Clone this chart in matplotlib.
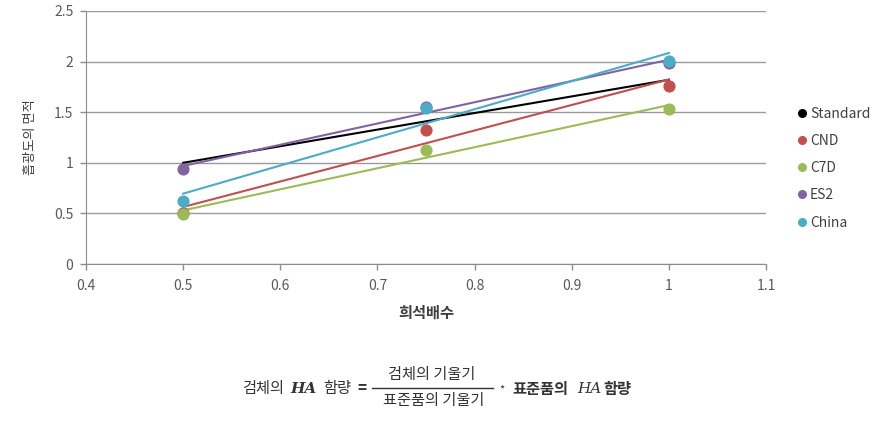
import matplotlib
matplotlib.use("Agg")
import matplotlib.pyplot as plt
from matplotlib.lines import Line2D
import numpy as np

plt.rcParams['font.family'] = ['Noto Sans CJK KR', 'DejaVu Sans']

# dilution factor on x, absorbance area on y
dilution = [0.5, 0.75, 1.0]
series_names = ['Standard', 'CND', 'C7D', 'ES2', 'China']
standard = [1.00, 1.41, 1.82]
cnd = [0.50, 1.32, 1.76]
c7d = [0.49, 1.13, 1.53]
es2 = [0.94, 1.55, 1.99]
china = [0.62, 1.54, 2.01]
colors = ['#000000', '#C0504D', '#9BBB59', '#8064A2', '#4BACC6']

x_ticks = [0.4, 0.5, 0.6, 0.7, 0.8, 0.9, 1.0, 1.1]
x_tick_labels = ['0.4', '0.5', '0.6', '0.7', '0.8', '0.9', '1', '1.1']
y_ticks = [0, 0.5, 1.0, 1.5, 2.0, 2.5]
y_tick_labels = ['0', '0.5', '1', '1.5', '2', '2.5']

W, H = 884, 426
fig = plt.figure(figsize=(W / 100, H / 100), dpi=100)
ax = fig.add_axes([86 / W, 1 - 264 / H, 680 / W, 253 / H])

all_series = [standard, cnd, c7d, es2, china]
handles = []
for i, (name, vals, col) in enumerate(zip(series_names, all_series, colors)):
    # standard points are not visible in the original, only its trend line
    if i > 0:
        ax.scatter(dilution, vals, s=60, color=col, zorder=3)
    k, b = np.polyfit(dilution, vals, 1)
    xs = np.array([dilution[0], dilution[-1]])
    ax.plot(xs, k * xs + b, color=col, linewidth=1.5, zorder=2)
    handles.append(Line2D([], [], marker='o', linestyle='none', markersize=5.5,
                          color=col, label=name))

ax.set_xlim(0.4, 1.1)
ax.set_ylim(0, 2.5)
ax.set_xticks(x_ticks)
ax.set_xticklabels(x_tick_labels)
ax.set_yticks(y_ticks)
ax.set_yticklabels(y_tick_labels)
ax.tick_params(colors='#8c8c8c', labelcolor='#595959', labelsize=10,
               length=4, width=1, direction='out')
ax.tick_params(axis='x', pad=7)
ax.tick_params(axis='y', pad=5)
ax.yaxis.grid(True, color='#9a9a9a', linewidth=1)
ax.set_axisbelow(True)
for side in ['top', 'right']:
    ax.spines[side].set_visible(False)
for side in ['left', 'bottom']:
    ax.spines[side].set_color('#8c8c8c')

ax.set_xlabel('희석배수', fontsize=11, fontweight='bold', color='#404040', labelpad=8)
ax.set_ylabel('흡광도의 면적', fontsize=9.5, color='#404040', labelpad=12)

leg = ax.legend(handles=handles, loc='center left', bbox_to_anchor=(1.035, 0.379),
                frameon=False, fontsize=10, handletextpad=0.05,
                labelspacing=0.95, handlelength=1.0, borderaxespad=0)
for t in leg.get_texts():
    t.set_color('#404040')

# formula below the chart
def px(x, y):
    return x / W, 1 - y / H

fs = 11
ink = '#333333'
serif = ['DejaVu Serif']
fig.text(*px(263, 389), '검체의', fontsize=fs, ha='center', va='center', color=ink)
fig.text(*px(303, 389), 'HA', fontsize=fs, ha='center', va='center', color=ink,
         family=serif, style='italic', fontweight='bold')
fig.text(*px(337, 389), '함량', fontsize=fs, ha='center', va='center', color=ink)
fig.text(*px(362, 388), '=', fontsize=fs, ha='center', va='center', color=ink,
         fontweight='bold')
fig.text(*px(432, 375), '검체의 기울기', fontsize=fs, ha='center', va='center', color=ink)
fig.text(*px(434, 400), '표준품의 기울기', fontsize=fs, ha='center', va='center', color=ink)
fig.add_artist(Line2D([372 / W, 493 / W], [1 - 388 / H, 1 - 388 / H],
                      color=ink, linewidth=1))
fig.text(*px(502, 390), '*', fontsize=fs - 3, ha='center', va='center', color=ink)
fig.text(*px(540, 389), '표준품의', fontsize=fs, ha='center', va='center', color=ink,
         fontweight='bold')
fig.text(*px(589, 389), 'HA', fontsize=fs, ha='center', va='center', color=ink,
         family=serif, style='italic')
fig.text(*px(617, 389), '함량', fontsize=fs, ha='center', va='center', color=ink,
         fontweight='bold')

fig.savefig('out.png', dpi=100)
